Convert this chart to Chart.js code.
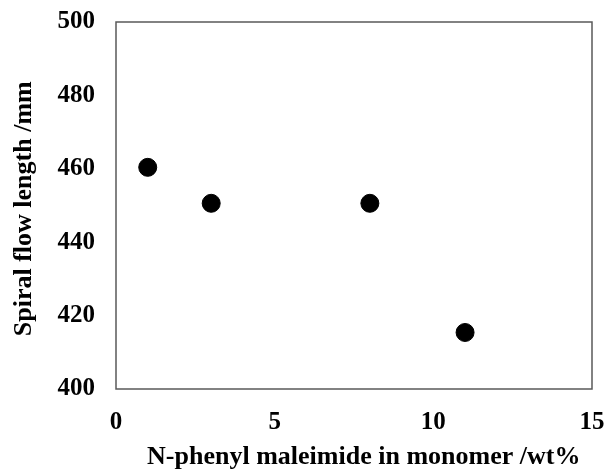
<!DOCTYPE html>
<html>
<head>
<meta charset="utf-8">
<script src="https://cdn.jsdelivr.net/npm/chart.js@4"></script>
<style>
  html, body { margin: 0; padding: 0; background: #fff; }
  #wrap { width: 608px; height: 470px; }
</style>
</head>
<body>
<div id="wrap"><canvas id="grafico"></canvas></div>
<script>
// N-phenyl maleimide content vs. spiral flow length
const conteudo = [1, 3, 8, 11];
const comprimento = [460.4, 450.6, 450.6, 415.4];
const ticksX = [0, 5, 10, 15];
const ticksY = [400, 420, 440, 460, 480, 500];

const fonte = { family: '"Liberation Serif", "Times New Roman", serif', weight: 'bold', size: 25 };
const fonteTitulo = { ...fonte, size: 26, lineHeight: 1.0 };

// moldura em volta da área do gráfico
const moldura = {
  id: 'moldura',
  afterDraw(chart) {
    const { ctx, chartArea: a } = chart;
    ctx.save();
    ctx.strokeStyle = '#595959';
    ctx.lineWidth = 1.5;
    ctx.strokeRect(a.left, a.top, a.right - a.left, a.bottom - a.top);
    ctx.restore();
  },
};

const ctx = document.getElementById('grafico').getContext('2d');
new Chart(ctx, {
  type: 'scatter',
  data: {
    datasets: [
      {
        data: conteudo.map((x, i) => ({ x: x, y: comprimento[i] })),
        backgroundColor: '#000',
        borderColor: '#000',
        pointRadius: 9,
        pointHoverRadius: 9,
      },
    ],
  },
  options: {
    responsive: true,
    maintainAspectRatio: false,
    animation: false,
    layout: { padding: { top: 22, right: 16, left: 0, bottom: 0 } },
    scales: {
      x: {
        min: 0,
        max: 15,
        afterBuildTicks: (s) => { s.ticks = ticksX.map((v) => ({ value: v })); },
        afterFit: (s) => {
          s.height = 81;
          s.paddingLeft = 0;
          s.paddingRight = 0;
        },
        grid: { display: false, drawTicks: false },
        border: { display: false },
        ticks: { color: '#000', font: fonte, padding: 19 },
        title: {
          display: true,
          text: '\u00a0\u00a0\u00a0N-phenyl maleimide in monomer /wt%',
          color: '#000',
          font: fonteTitulo,
          padding: { top: 0, bottom: 0 },
        },
      },
      y: {
        min: 400,
        max: 500,
        afterBuildTicks: (s) => { s.ticks = ticksY.map((v) => ({ value: v })); },
        afterFit: (s) => {
          s.width = 116;
          s.paddingTop = 0;
          s.paddingBottom = 0;
        },
        grid: { display: false, drawTicks: false },
        border: { display: false },
        ticks: { color: '#000', font: fonte, padding: 21 },
        title: {
          display: true,
          text: 'Spiral flow length /mm\u00a0',
          color: '#000',
          font: fonteTitulo,
          padding: { top: 11, bottom: 11 },
        },
      },
    },
    plugins: {
      legend: { display: false },
      tooltip: { enabled: false },
    },
  },
  plugins: [moldura],
});
</script>
</body>
</html>
